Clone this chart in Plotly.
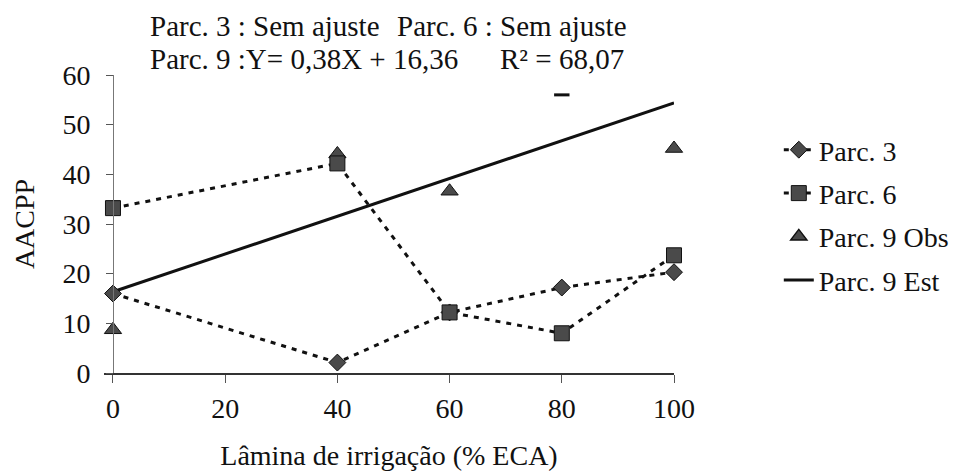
import plotly.graph_objects as go

# Irrigation depth (% ECA) and AACPP values per plot
x_ticks = [0, 20, 40, 60, 80, 100]
y_ticks = [0, 10, 20, 30, 40, 50, 60]
lamina = [0, 40, 60, 80, 100]
parc3 = [16.0, 2.1, 12.2, 17.2, 20.3]
parc6 = [33.2, 42.2, 12.2, 8.0, 23.7]
parc9_obs = [8.7, 44.1, 36.6, 56.0, 45.2]
parc9_symbols = ["triangle-up", "triangle-up", "triangle-up", "line-ew", "triangle-up"]

# Fitted model for plot 9: Y = a*X + b
coef_a = 0.38
coef_b = 16.36
r_squared = 68.07
est_x = [0, 100]
parc9_est = [coef_a * x + coef_b for x in est_x]

W, H = 955, 473
ML, MR, MT, MB = 104, 281, 75, 100
PW, PH = W - ML - MR, H - MT - MB
X_MIN, X_MAX = -1.6, 100


def px_x(p):
    return (p - ML) / PW


def px_y(p):
    return (H - MB - p) / PH


def br(v):
    return f"{v:.2f}".replace(".", ",")


FAMILY = "Liberation Serif"
INK = "#111111"
MARK_FILL = "#4a4a4a"


def serif(size=28):
    return dict(family=FAMILY, size=size, color=INK)


fig = go.Figure()

# fitted line first, then observations, so the markers sit on top
fig.add_trace(go.Scatter(
    x=est_x, y=parc9_est, name="Parc. 9 Est", mode="lines",
    line=dict(color=INK, width=3),
    legendgroup="g4", legendrank=4, cliponaxis=False,
))
fig.add_trace(go.Scatter(
    x=lamina, y=parc9_obs, name="Parc. 9 Obs", mode="markers",
    marker=dict(symbol=parc9_symbols, size=[15, 15, 15, 11, 15], color=MARK_FILL,
                opacity=1, line=dict(color=INK, width=[1, 1, 1, 3, 1])),
    legendgroup="g3", legendrank=3, cliponaxis=False,
))
fig.add_trace(go.Scatter(
    x=lamina, y=parc3, name="Parc. 3", mode="lines+markers",
    line=dict(color=INK, width=3, dash="5px,6px"),
    marker=dict(symbol="diamond", size=13, color=MARK_FILL, line=dict(color=INK, width=1)),
    legendgroup="g1", legendrank=1, cliponaxis=False,
))
fig.add_trace(go.Scatter(
    x=lamina, y=parc6, name="Parc. 6", mode="lines+markers",
    line=dict(color=INK, width=3, dash="5px,6px"),
    marker=dict(symbol="square", size=15, color=MARK_FILL, line=dict(color=INK, width=1)),
    legendgroup="g2", legendrank=2, cliponaxis=False,
))

fig.update_layout(
    width=W, height=H,
    margin=dict(l=ML, r=MR, t=MT, b=MB, autoexpand=False),
    paper_bgcolor="white", plot_bgcolor="white",
    font=serif(),
    showlegend=True,
    legend=dict(
        xref="container", yref="container",
        x=0.8155, y=1 - 125 / H, xanchor="left", yanchor="top",
        font=serif(),
        traceorder="grouped", tracegroupgap=4,
        bgcolor="rgba(0,0,0,0)",
    ),
    xaxis=dict(
        range=[X_MIN, X_MAX], tickvals=x_ticks, showgrid=False, zeroline=False,
        automargin=False,
        showline=True, linecolor="#333333", linewidth=1.5,
        ticks="outside", ticklen=8, tickcolor="#555555", ticklabelstandoff=2,
        tickfont=serif(),
        title=dict(text="Lâmina de irrigação (% ECA)", font=serif(), standoff=22),
    ),
    yaxis=dict(
        range=[0, 60], tickvals=y_ticks, showgrid=False, zeroline=False,
        automargin=False,
        anchor="free", position=(0 - X_MIN) / (X_MAX - X_MIN),
        showline=True, linecolor="#777777", linewidth=1,
        ticks="outside", ticklen=7, tickcolor="#555555", ticklabelstandoff=10,
        tickfont=serif(),
        title=dict(text="AACPP", font=serif(), standoff=18),
    ),
)

header = [
    ("Parc. 3 : Sem ajuste", 148, 26),
    ("Parc. 6 : Sem ajuste", 395, 26),
    (f"Parc. 9 :Y= {br(coef_a)}X + {br(coef_b)}", 148, 59),
    (f"R² = {br(r_squared)}", 498, 59),
]
for text, px, py in header:
    fig.add_annotation(
        text=text, xref="paper", yref="paper", x=px_x(px), y=px_y(py),
        xanchor="left", yanchor="middle", showarrow=False,
        font=serif(29),
    )

fig.write_html("out.html")
